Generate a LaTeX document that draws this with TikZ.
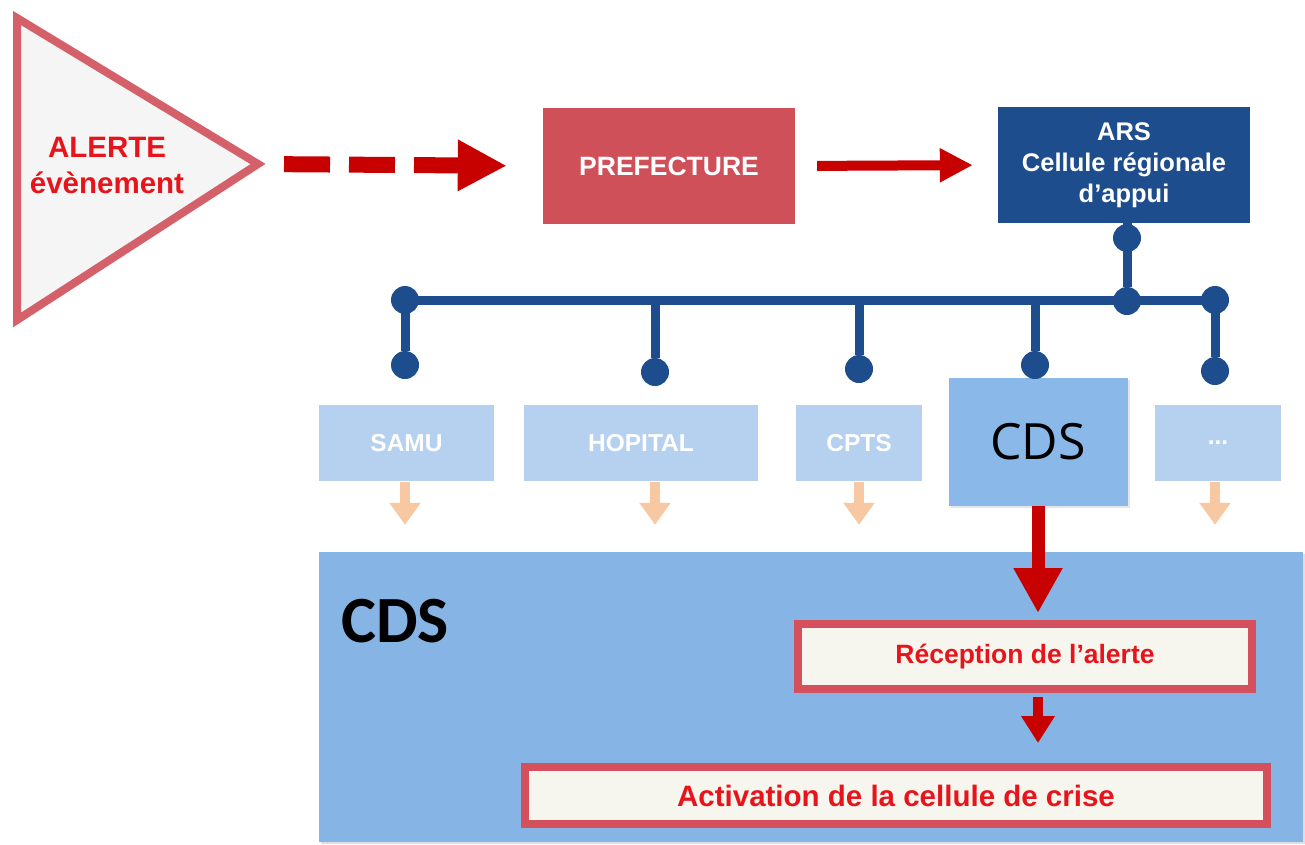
\documentclass[tikz,border=0pt]{standalone}
\usepackage{fontspec}
\setmainfont{Liberation Sans}
\newfontfamily\cdsfont{Open Sans}
\newfontfamily\cdsbold{Carlito}
\usepackage{tikz}
\usetikzlibrary{positioning, arrows.meta, shadows}

\definecolor{alertred}{HTML}{E8141C}
\definecolor{arrowred}{HTML}{C70000}
\definecolor{triborder}{HTML}{D4606A}
\definecolor{prefred}{HTML}{D0505A}
\definecolor{arsblue}{HTML}{1D4D8C}
\definecolor{paleblue}{HTML}{B5D1EF}
\definecolor{midblue}{HTML}{8AB8E8}
\definecolor{panelblue}{HTML}{86B4E4}
\definecolor{peach}{HTML}{F7C8A2}
\definecolor{boxred}{HTML}{D4505C}
\definecolor{ivory}{HTML}{F6F6EF}

\newcommand{\fs}[2]{\fontsize{#1}{#2}\selectfont}

\tikzset{
	topbox/.style={minimum width=252pt, minimum height=116pt, inner sep=0pt, text=white, align=center, font=\fs{25.5}{31}\bfseries},
	member/.style={fill=paleblue, minimum height=76pt, inner sep=0pt, text=white, font=\fs{24.5}{28}\bfseries},
	bus/.style={draw=arsblue, line width=9pt},
	busdot/.style={circle, fill=arsblue, minimum size=28pt, inner sep=0pt},
	peacharrow/.style={draw=peach, line width=10pt, -{Triangle[length=22pt, width=30pt]}},
	redbox/.style={draw=boxred, line width=8pt, fill=ivory, inner sep=0pt, text=alertred}
}

\begin{document}
\begin{tikzpicture}[x=1pt, y=-1pt]
	\useasboundingbox (0,0) rectangle (1305,844);

	\draw[draw=triborder, fill=black!4, line width=8pt] (17,18) -- (258,164) -- (17,320) -- cycle;
	\coordinate (alerttip) at (258,164);
	\node[text=alertred, align=center, font=\fs{29.5}{36}\bfseries] (alert) at (107,165) {ALERTE\\évènement};

	\node[topbox, fill=prefred, font=\fs{26.5}{31}\bfseries] (pref) at (669,166) {PREFECTURE};
	\node[topbox, fill=arsblue] (ars) at (1124,165) {ARS\\Cellule régionale\\d'appui};

	\draw[draw=arrowred, line width=16pt, dash pattern=on 46pt off 19pt, -{Triangle[length=49pt, width=48pt]}, shorten <=26pt, shorten >=36pt] (alerttip) -- (pref.west);
	\draw[draw=arrowred, line width=10pt, -{Triangle[length=33pt, width=32pt]}, shorten <=22pt, shorten >=25pt] (pref.east) -- (ars.west);

	\node[fill=panelblue, minimum width=984pt, minimum height=290pt, inner sep=0pt, drop shadow={shadow xshift=2pt, shadow yshift=-2pt, opacity=0.25}] (panel) at (811,697) {};
	\node[anchor=west, inner sep=0pt, font=\cdsbold\fs{66}{70}\bfseries] (cdslabel) at (341,621) {CDS};

	\node[member, minimum width=175pt] (samu) at (406.5,443) {SAMU};
	\node[member, minimum width=234pt] (hop) at (641,443) {HOPITAL};
	\node[member, minimum width=126pt] (cpts) at (859,443) {CPTS};
	\node[fill=midblue, minimum width=179pt, minimum height=128pt, inner sep=0pt, font=\cdsfont\fs{50}{55}, drop shadow={shadow xshift=2pt, shadow yshift=-2pt, opacity=0.2}] (cds) at (1038,442) {CDS};
	\node[member, minimum width=126pt] (more) at (1218,443) {...};

	\coordinate (busL) at (405,300);
	\coordinate (busR) at (1215,300);
	\draw[bus] (busL) -- (busR);
	\node[busdot] (arstop) at (1127,238) {};
	\node[busdot] (arsjoin) at (1127,301) {};
	\draw[bus] (ars.south -| arstop) -- (arsjoin);
	\node[busdot] at (busL) {};
	\node[busdot] at (busR) {};

	\foreach \name/\x/\y in {samu/405/365, hop/655/372, cpts/859/369, cds/1035/365, more/1215/371} {
		\coordinate (\name bus) at (\x,300);
		\node[busdot] (\name dot) at (\x,\y) {};
		\draw[bus] (\name bus) -- (\name dot);
	};

	\foreach \name in {samu, hop, cpts, more} {
		\draw[peacharrow, shorten <=1pt, shorten >=27pt] (\name.south -| \name dot) -- (\name dot |- panel.north);
	};

	\node[redbox, minimum width=454pt, minimum height=65pt, font=\fs{26.5}{30}\bfseries] (recep) at (1025,656.5) {Réception de l'alerte};
	\node[redbox, minimum width=742pt, minimum height=57pt, font=\fs{29.5}{33}\bfseries] (act) at (896,795.5) {Activation de la cellule de crise};

	\draw[draw=arrowred, line width=13pt, -{Triangle[length=45pt, width=46pt]}, shorten >=7pt] (cds.south) -- (cds.south |- recep.north);
	\draw[draw=arrowred, line width=10pt, -{Triangle[length=27pt, width=32pt]}, shorten <=4pt, shorten >=20pt] (recep.south -| cds.south) -- (act.north -| cds.south);
\end{tikzpicture}
\end{document}
